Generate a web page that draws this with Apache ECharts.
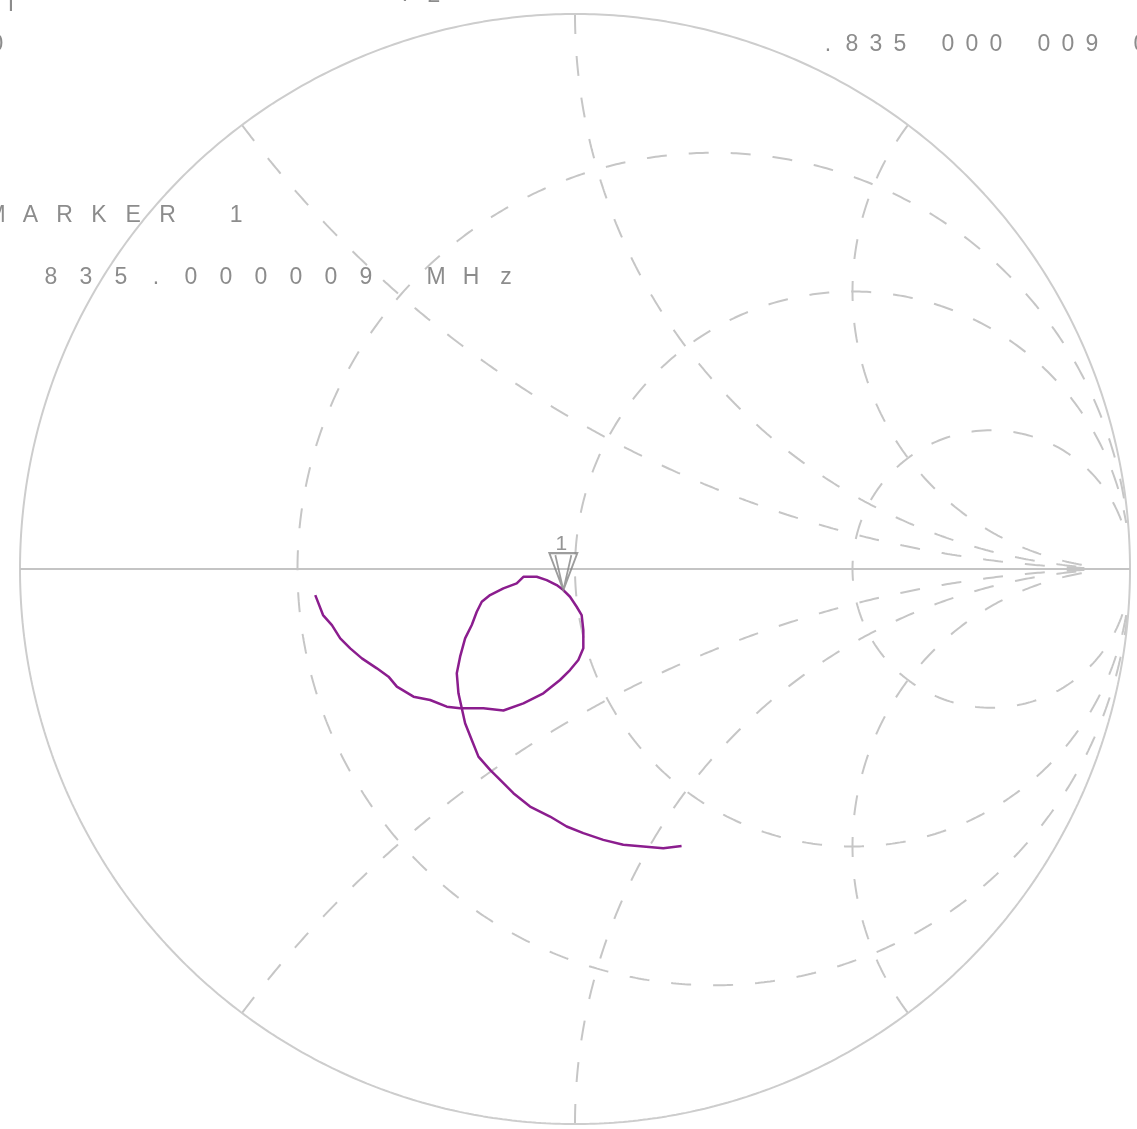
<!DOCTYPE html>
<html>
<head>
<meta charset="utf-8">
<title>Smith chart - S11</title>
<script src="https://cdn.jsdelivr.net/npm/echarts@6/dist/echarts.min.js"></script>
<style>
  html, body { margin: 0; padding: 0; background: #ffffff; }
  #chart { width: 1137px; height: 1129px; }
</style>
</head>
<body>
<div id="chart"></div>
<script>
// Smith chart graticule: constant-resistance circles and constant-reactance arcs
const resistanceValues = [1 / 3, 1, 3];
const reactanceValues = [0.5, 1, 2];

// Measured reflection coefficient (real / imaginary parts) along the sweep
const traceRe = [-0.468, -0.454, -0.438, -0.423, -0.405, -0.384, -0.357, -0.336, -0.321, -0.291,
  -0.261, -0.231, -0.207, -0.165, -0.129, -0.093, -0.057, -0.027, -0.009, 0.006,
  0.015, 0.015, 0.012, 0.003, -0.009, -0.021, -0.033, -0.051, -0.069, -0.093,
  -0.105, -0.129, -0.153, -0.168, -0.177, -0.186, -0.198, -0.207, -0.213, -0.210,
  -0.204, -0.198, -0.186, -0.174, -0.153, -0.129, -0.111, -0.081, -0.045, -0.015,
  0.015, 0.051, 0.087, 0.123, 0.159, 0.192];
const traceIm = [-0.047, -0.083, -0.101, -0.125, -0.143, -0.161, -0.179, -0.194, -0.212, -0.230,
  -0.236, -0.248, -0.251, -0.251, -0.255, -0.242, -0.224, -0.200, -0.182, -0.164,
  -0.143, -0.110, -0.083, -0.068, -0.050, -0.038, -0.029, -0.020, -0.014, -0.014,
  -0.026, -0.035, -0.047, -0.059, -0.077, -0.101, -0.125, -0.158, -0.188, -0.224,
  -0.251, -0.278, -0.308, -0.338, -0.362, -0.386, -0.404, -0.428, -0.446, -0.464,
  -0.476, -0.488, -0.497, -0.500, -0.503, -0.499];

// Marker 1 sits on this sweep point
const markerIndex = 25;
const markerName = '1';

// Annotation text
const headerFragments = ['I', '.', '2', '0'];
const frequencyText = '.835 000 009 0';
const markerTitle = 'MARKER 1';
const markerFreqText = '835.000009 MHz';

const GRID_COLOR = '#c6c6c6';
const TEXT_COLOR = '#8c8c8c';
const TRACE_COLOR = '#8b1d8e';
const CLIP = 0.08; // grid arcs stop short of the open-circuit point

function gammaOf(r, x) {
  const den = (r + 1) * (r + 1) + x * x;
  return [(r * r + x * x - 1) / den, (2 * x) / den];
}
function farFromOpen(p) {
  return Math.hypot(p[0] - 1, p[1]) >= CLIP;
}

function resistanceCircle(r) {
  const pts = [];
  const N = 900;
  for (let k = 1; k < N; k++) {
    const phi = -Math.PI / 2 + Math.PI * k / N;
    const p = gammaOf(r, Math.tan(phi));
    if (farFromOpen(p)) pts.push(p);
  }
  return pts;
}
function reactanceArc(x) {
  const pts = [];
  const N = 900;
  for (let k = 0; k < N; k++) {
    const t = k / N;
    const p = gammaOf(t / (1 - t), x);
    if (farFromOpen(p)) pts.push(p);
  }
  return pts;
}
function unitCircle() {
  const pts = [];
  for (let k = 0; k <= 720; k++) {
    const a = 2 * Math.PI * k / 720;
    pts.push([Math.cos(a), Math.sin(a)]);
  }
  return pts;
}

const dashed = { color: GRID_COLOR, width: 2, type: [20, 22] };
function gridSeries(data) {
  return {
    type: 'line', data, showSymbol: false, symbol: 'none', silent: true,
    clip: false, lineStyle: dashed, z: 1
  };
}

const series = [];
resistanceValues.forEach(r => series.push(gridSeries(resistanceCircle(r))));
reactanceValues.forEach(x => {
  series.push(gridSeries(reactanceArc(x)));
  series.push(gridSeries(reactanceArc(-x)));
});
// outer boundary |Γ| = 1
series.push({
  type: 'line', data: unitCircle(), showSymbol: false, symbol: 'none', silent: true,
  clip: false, lineStyle: { color: '#cdcdcd', width: 2 }, z: 2
});
// real axis
series.push({
  type: 'line', data: [[-1, 0], [1, 0]], showSymbol: false, symbol: 'none', silent: true,
  clip: false, lineStyle: { color: '#c4c4c4', width: 2 }, z: 2
});
// measured trace
series.push({
  type: 'line', data: traceRe.map((v, i) => [v, traceIm[i]]),
  showSymbol: false, symbol: 'none', silent: true, clip: false,
  lineStyle: { color: TRACE_COLOR, width: 2.5 }, z: 5
});
// marker triangle, apex on the sweep point
series.push({
  type: 'scatter', silent: true, clip: false, z: 6,
  data: [[traceRe[markerIndex], traceIm[markerIndex]]],
  symbol: 'path://M0,0 L28,0 L14,37 Z M6,2 L14,37 M22,2 L14,37',
  symbolSize: [28, 37],
  symbolOffset: [0, -18.5],
  itemStyle: { color: 'rgba(0,0,0,0)', borderColor: '#858585', borderWidth: 2 },
  label: {
    show: true, position: 'top', distance: 2, offset: [-2, 5], formatter: markerName,
    color: '#7a7a7a', fontFamily: 'Liberation Sans', fontSize: 21
  }
});

// spaced instrument-style characters
const FONT = '23px "Liberation Sans", "DejaVu Sans", sans-serif';
const graphics = [];
function spacedText(str, x0, y, pitch) {
  for (let i = 0; i < str.length; i++) {
    const ch = str[i];
    if (ch === ' ') continue;
    graphics.push({
      type: 'text', x: x0 + i * pitch, y, silent: true, z: 10,
      style: {
        text: ch, fill: TEXT_COLOR, font: FONT,
        align: 'center', verticalAlign: 'middle',
        textAlign: 'center', textVerticalAlign: 'middle'
      }
    });
  }
}
// fragments of the rows above, partly cut by the top/left edge
spacedText(headerFragments[0], 11, 5, 0);
spacedText(headerFragments[1], 405, -5, 0);
spacedText(headerFragments[2], 434, -4, 0);
spacedText(headerFragments[3], -3, 45, 0);
spacedText(frequencyText, 828, 45, 24);
spacedText(markerTitle, -4, 216, 34.3);
spacedText(markerFreqText, 51, 278, 35);

const chart = echarts.init(document.getElementById('chart'), null, { renderer: 'canvas' });
chart.setOption({
  animation: false,
  backgroundColor: '#ffffff',
  grid: { left: 20, top: 14, width: 1110, height: 1110 },
  xAxis: { type: 'value', min: -1, max: 1, show: false },
  yAxis: { type: 'value', min: -1, max: 1, show: false },
  series,
  graphic: graphics
});
</script>
</body>
</html>
